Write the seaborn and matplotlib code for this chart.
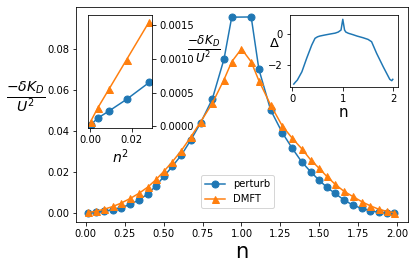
import matplotlib
matplotlib.use("Agg")
import matplotlib.pyplot as plt
import seaborn as sns
import pandas as pd

# ---------------- data ----------------
n_perturb = [0.018, 0.065, 0.12, 0.175, 0.229, 0.286, 0.342, 0.4, 0.453, 0.503,
             0.556, 0.614, 0.674, 0.738, 0.813, 0.888, 0.9375,
             1.0625, 1.112, 1.187, 1.262, 1.326, 1.386, 1.444, 1.497, 1.547,
             1.6, 1.658, 1.714, 1.771, 1.825, 1.88, 1.935, 1.982]
kd_perturb = [0.0002, 0.0005, 0.0010, 0.0018, 0.0028, 0.0043, 0.0065, 0.0095, 0.0135, 0.0180,
              0.0228, 0.0283, 0.0355, 0.0440, 0.0556, 0.0750, 0.0954,
              0.0955, 0.0700, 0.0503, 0.0392, 0.0316, 0.0251, 0.0202, 0.0162, 0.0127,
              0.0097, 0.0065, 0.0040, 0.0024, 0.0013, 0.0005, 0.0001, 0.0000]

n_dmft = [0.018, 0.065, 0.12, 0.175, 0.229, 0.286, 0.342, 0.4, 0.453, 0.503,
          0.556, 0.614, 0.674, 0.738, 0.813, 0.888, 0.9375, 1.0,
          1.0625, 1.112, 1.187, 1.262, 1.326, 1.386, 1.444, 1.497, 1.547,
          1.6, 1.658, 1.714, 1.771, 1.825, 1.88, 1.935, 1.982]
kd_dmft = [0.0004, 0.0010, 0.0020, 0.0033, 0.0050, 0.0072, 0.0097, 0.0128, 0.0165, 0.0205,
           0.0250, 0.0305, 0.0370, 0.0445, 0.0535, 0.0650, 0.0737, 0.0800,
           0.0737, 0.0645, 0.0527, 0.0425, 0.0365, 0.0315, 0.0260, 0.0220, 0.0180,
           0.0142, 0.0107, 0.0082, 0.0057, 0.0037, 0.0020, 0.0009, 0.0003]

n2_small = [0.0003, 0.0037, 0.0093, 0.0176, 0.0284]
kd_small_perturb = [0.00002, 0.00012, 0.00023, 0.00040, 0.00065]
kd_small_dmft = [0.00007, 0.00027, 0.00056, 0.00099, 0.00155]

n_delta = [0.03, 0.06, 0.1, 0.19, 0.285, 0.385, 0.45, 0.5, 0.547, 0.65, 0.747, 0.85,
           0.91, 0.965, 1.0, 1.035, 1.06, 1.11, 1.2, 1.28, 1.4, 1.5, 1.57, 1.67,
           1.8, 1.93, 1.97, 1.99]
delta = [-3.24, -3.12, -2.98, -2.44, -1.56, -0.70, -0.26, -0.16, -0.11, -0.04, 0.02, 0.08,
         0.15, 0.28, 0.98, 0.28, 0.15, 0.07, -0.02, -0.11, -0.22, -0.33, -0.48, -1.24,
         -2.11, -2.93, -3.02, -2.93]

main_xticks = [0.0, 0.25, 0.5, 0.75, 1.0, 1.25, 1.5, 1.75, 2.0]
main_yticks = [0.0, 0.02, 0.04, 0.06, 0.08]

BLUE = "#1f77b4"
ORANGE = "#ff7f0e"

plt.rcParams["font.family"] = ["DejaVu Sans"]

fig = plt.figure(figsize=(416 / 72, 270 / 72), dpi=72)
ax = fig.add_axes([76 / 416, 1 - 221.7 / 270, 332 / 416, 214.4 / 270])

sns.lineplot(x=n_perturb, y=kd_perturb, ax=ax, color=BLUE, marker="o", markersize=7,
             markeredgecolor=BLUE, markeredgewidth=1, linewidth=1.5, label="perturb")
sns.lineplot(x=n_dmft, y=kd_dmft, ax=ax, color=ORANGE, marker="^", markersize=7,
             markeredgecolor=ORANGE, markeredgewidth=1, linewidth=1.5, label="DMFT")
ax.set_xlim(-0.062, 2.069)
ax.set_ylim(-0.0041, 0.1002)
ax.set_xticks(main_xticks)
ax.set_yticks(main_yticks)
ax.tick_params(labelsize=10)
ax.set_xlabel("n", fontsize=21, labelpad=3)
ax.set_ylabel(r"$\frac{-\delta K_D}{U^2}$", fontsize=20, rotation=0, ha="center", va="center")
ax.yaxis.set_label_coords(-0.152, 0.577)
ax.legend(loc="lower center", bbox_to_anchor=(0.486, 0.0625), borderaxespad=0, fontsize=10)

# inset 1: small n
ax1 = fig.add_axes([88.3 / 416, 1 - 128.3 / 270, 64 / 416, 113.3 / 270])
sns.lineplot(x=n2_small, y=kd_small_perturb, ax=ax1, color=BLUE, marker="o", markersize=7,
             markeredgecolor=BLUE, markeredgewidth=1, linewidth=1.5)
sns.lineplot(x=n2_small, y=kd_small_dmft, ax=ax1, color=ORANGE, marker="^", markersize=7,
             markeredgecolor=ORANGE, markeredgewidth=1, linewidth=1.5)
ax1.set_xlim(-0.0008, 0.0299)
ax1.set_ylim(-0.00003, 0.00165)
ax1.set_xticks([0.0, 0.02])
ax1.set_yticks([0.0, 0.0005, 0.0010, 0.0015])
ax1.set_yticklabels(["0.0000", "0.0005", "0.0010", "0.0015"])
ax1.set_xticklabels(["0.00", "0.02"])
ax1.yaxis.tick_right()
ax1.tick_params(labelsize=10)
ax1.set_xlabel(r"$n^2$", fontsize=14, labelpad=2)
ax1.set_ylabel(r"$\frac{-\delta K_D}{U^2}$", fontsize=17, rotation=0, ha="center", va="center")
ax1.yaxis.set_label_coords(1.80, 0.70)

# inset 2: Delta
ax2 = fig.add_axes([289.5 / 416, 1 - 87.3 / 270, 108.5 / 416, 72.3 / 270])
sns.lineplot(x=n_delta, y=delta, ax=ax2, color=BLUE, linewidth=1.5)
ax2.set_xlim(-0.055, 2.093)
ax2.set_ylim(-3.45, 1.26)
ax2.set_xticks([0, 1, 2])
ax2.set_yticks([-2, 0])
ax2.tick_params(labelsize=10)
ax2.set_xlabel("n", fontsize=15, labelpad=1)
ax2.set_ylabel(r"$\Delta$", fontsize=13, rotation=0, ha="center", va="center")
ax2.yaxis.set_label_coords(-0.138, 0.599)

fig.savefig("out.png", dpi=72)
